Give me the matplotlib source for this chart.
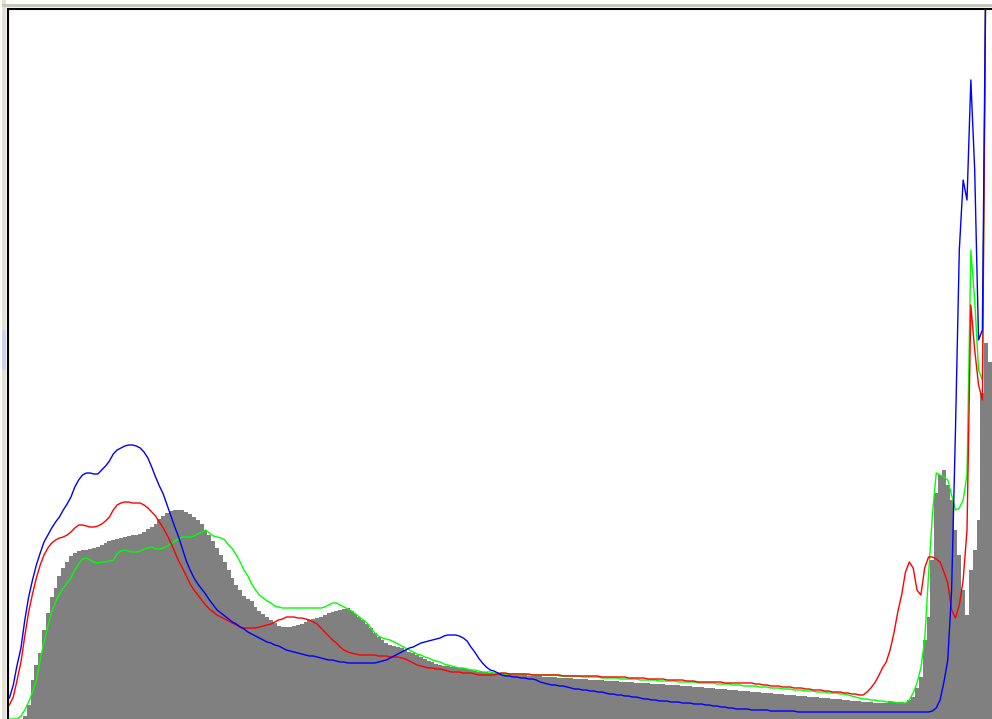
import matplotlib
matplotlib.use("Agg")
import matplotlib.pyplot as plt
import numpy as np
from matplotlib.patches import Rectangle

# 256-bin image histogram: luminance (gray bars) and R, G, B curves
gray = [0, 0, 0, 0, 3, 14, 39, 54, 66, 89, 106, 122, 131, 143, 151, 157, 163, 166, 168, 169,
        169, 170, 171, 172, 174, 176, 178, 179, 180, 181, 182, 183, 184, 184, 185, 187, 190, 192, 195, 200,
        203, 206, 208, 209, 209, 209, 207, 205, 202, 199, 195, 189, 184, 178, 171, 164, 157, 149, 141, 134,
        129, 123, 120, 118, 112, 108, 105, 102, 99, 96, 93, 92, 92, 92, 93, 94, 95, 97, 99, 100,
        101, 102, 104, 106, 107, 108, 109, 110, 111, 108, 105, 102, 99, 95, 91, 86, 82, 79, 76, 74,
        73, 72, 71, 69, 67, 66, 64, 62, 60, 58, 57, 55, 54, 53, 53, 52, 52, 51, 51, 50,
        49, 48, 47, 47, 47, 46, 46, 46, 45, 45, 45, 44, 44, 44, 44, 43, 43, 43, 43, 42,
        42, 42, 42, 41, 41, 41, 41, 40, 40, 40, 40, 39, 39, 39, 39, 38, 38, 38, 38, 37,
        37, 37, 37, 36, 36, 36, 36, 35, 35, 35, 35, 34, 34, 34, 34, 33, 33, 33, 32, 32,
        32, 31, 31, 31, 30, 30, 30, 29, 29, 29, 28, 28, 28, 27, 27, 27, 26, 26, 26, 25,
        25, 25, 24, 24, 24, 23, 23, 23, 22, 22, 22, 21, 21, 21, 20, 20, 20, 19, 19, 18,
        18, 18, 17, 17, 17, 16, 16, 16, 16, 18, 17, 17, 17, 16, 19, 22, 31, 42, 79, 102,
        159, 226, 244, 249, 234, 219, 189, 164, 129, 104, 149, 169, 199, 326, 376, 357]

red = [14, 22, 39, 57, 83, 107, 125, 141, 154, 164, 171, 176, 179, 181, 182, 184, 187, 191, 194, 194,
       193, 192, 192, 193, 195, 198, 202, 209, 214, 216, 217, 217, 216, 216, 216, 214, 211, 207, 203, 197,
       191, 184, 176, 167, 158, 151, 143, 135, 129, 124, 119, 114, 110, 107, 104, 102, 100, 98, 96, 94,
       92, 91, 91, 91, 91, 92, 93, 94, 95, 97, 99, 100, 102, 102, 102, 101, 101, 100, 99, 97,
       95, 91, 87, 83, 79, 76, 72, 69, 67, 66, 65, 64, 64, 64, 64, 64, 63, 63, 63, 62,
       62, 62, 61, 60, 58, 56, 54, 53, 52, 51, 51, 50, 50, 49, 48, 47, 47, 47, 46, 46,
       46, 45, 44, 44, 44, 44, 44, 45, 46, 46, 45, 45, 45, 45, 45, 45, 44, 44, 44, 44,
       44, 44, 44, 44, 43, 43, 43, 43, 43, 43, 43, 43, 43, 43, 42, 42, 42, 42, 42, 42,
       42, 41, 41, 41, 41, 41, 40, 40, 40, 40, 40, 39, 39, 39, 39, 39, 38, 38, 38, 37,
       37, 37, 37, 37, 37, 37, 36, 36, 36, 36, 36, 36, 36, 36, 35, 35, 34, 34, 33, 33,
       33, 32, 32, 32, 31, 31, 31, 30, 30, 29, 29, 29, 28, 28, 27, 27, 27, 26, 26, 25,
       25, 24, 24, 27, 31, 36, 43, 51, 57, 69, 86, 107, 124, 147, 157, 151, 129, 124, 151, 162,
       162, 160, 157, 147, 136, 109, 101, 114, 139, 189, 414, 369, 334, 319, 800, 800]

green = [0, 0, 0, 3, 9, 17, 27, 39, 59, 77, 93, 107, 117, 125, 131, 136, 141, 149, 155, 160,
         161, 159, 157, 156, 157, 157, 158, 159, 165, 168, 169, 168, 167, 167, 168, 170, 171, 172, 170, 170,
         171, 173, 175, 178, 180, 182, 182, 182, 183, 185, 187, 189, 186, 183, 182, 181, 179, 174, 170, 164,
         157, 149, 143, 135, 129, 124, 121, 118, 116, 113, 112, 111, 111, 111, 111, 111, 111, 111, 111, 111,
         111, 111, 112, 114, 116, 116, 114, 112, 110, 108, 105, 102, 99, 96, 91, 86, 83, 81, 80, 79,
         77, 75, 73, 71, 69, 67, 65, 64, 62, 61, 59, 58, 57, 55, 54, 53, 52, 51, 51, 50,
         49, 49, 48, 47, 47, 47, 46, 46, 46, 45, 45, 45, 45, 45, 45, 44, 44, 44, 44, 44,
         44, 44, 44, 43, 43, 43, 43, 43, 43, 42, 42, 42, 42, 42, 41, 41, 41, 41, 41, 40,
         40, 40, 40, 40, 39, 39, 39, 39, 39, 38, 38, 38, 38, 38, 37, 37, 37, 37, 37, 36,
         36, 36, 36, 36, 35, 35, 35, 35, 34, 34, 34, 33, 33, 33, 33, 32, 32, 32, 31, 31,
         31, 30, 30, 30, 29, 29, 29, 28, 28, 28, 27, 27, 27, 26, 26, 26, 25, 25, 24, 23,
         22, 21, 20, 20, 19, 19, 18, 18, 17, 17, 17, 16, 16, 16, 19, 26, 36, 51, 79, 144,
         204, 246, 244, 242, 239, 224, 209, 211, 219, 244, 469, 419, 349, 339, 800, 800]

blue = [21, 34, 54, 71, 99, 122, 139, 154, 166, 177, 184, 191, 197, 202, 209, 215, 222, 232, 239, 244,
        246, 246, 245, 245, 249, 253, 258, 265, 269, 271, 273, 274, 274, 273, 271, 267, 261, 252, 242, 233,
        225, 214, 203, 192, 182, 170, 158, 149, 141, 135, 130, 125, 119, 114, 109, 106, 103, 100, 97, 95,
        92, 90, 87, 85, 83, 81, 79, 77, 76, 74, 73, 71, 69, 68, 67, 66, 65, 64, 63, 63,
        62, 61, 60, 59, 59, 58, 57, 57, 56, 56, 56, 56, 56, 56, 56, 56, 57, 58, 59, 61,
        63, 65, 67, 69, 71, 72, 74, 76, 77, 78, 79, 80, 81, 83, 84, 84, 84, 83, 81, 78,
        72, 67, 61, 56, 52, 49, 48, 46, 44, 43, 43, 42, 42, 41, 41, 40, 40, 39, 37, 36,
        35, 34, 34, 33, 33, 32, 31, 30, 30, 29, 29, 28, 28, 27, 27, 26, 25, 25, 24, 24,
        23, 23, 22, 22, 21, 20, 20, 19, 19, 18, 18, 18, 17, 17, 17, 16, 16, 16, 15, 15,
        15, 14, 14, 13, 13, 12, 12, 11, 11, 10, 10, 10, 10, 9, 9, 9, 9, 9, 8, 8,
        8, 8, 8, 8, 8, 7, 7, 7, 7, 7, 7, 7, 7, 7, 7, 7, 7, 7, 7, 7,
        7, 7, 7, 7, 7, 7, 7, 7, 7, 7, 7, 7, 7, 7, 7, 7, 7, 7, 7, 7,
        8, 11, 19, 37, 59, 129, 289, 469, 539, 519, 639, 549, 379, 389, 800, 800]

nbins = len(gray)
edges = np.arange(nbins + 1)
centers = np.arange(nbins) + 0.5

W, H = 992, 719
fig = plt.figure(figsize=(W / 100, H / 100), dpi=100)
fig.patch.set_facecolor("white")

# window chrome (light beige border strips)
fig.patches.append(Rectangle((2 / W, 0), 4 / W, 1, transform=fig.transFigure,
                             facecolor="#E4E1D4", edgecolor="none", zorder=0))
fig.patches.append(Rectangle((2 / W, 1 - 7 / H), 1, 3 / H, transform=fig.transFigure,
                             facecolor="#C9C7BC", edgecolor="none", zorder=0))
fig.patches.append(Rectangle((2 / W, 1 - 370 / H), 4 / W, 40 / H, transform=fig.transFigure,
                             facecolor="#C9D2F2", edgecolor="none", zorder=1))

ax = fig.add_axes([7.5 / W, 0, 1 - 7.5 / W, (H - 8.5) / H])
ax.set_facecolor("white")

ax.stairs(gray, edges, fill=True, color="#808080", linewidth=0, zorder=1)
ax.plot(centers, red, color="#FF0000", lw=1.0, zorder=3)
ax.plot(centers, green, color="#00FF00", lw=1.0, zorder=2)
ax.plot(centers, blue, color="#0000FF", lw=1.0, zorder=4)

ax.set_xlim(0, nbins)
ax.set_ylim(0, 710.5)
ax.set_xticks([])
ax.set_yticks([])
for s in ["right", "bottom"]:
    ax.spines[s].set_visible(False)
for s in ["left", "top"]:
    ax.spines[s].set_linewidth(1.5)
    ax.spines[s].set_color("black")

fig.savefig("out.png", dpi=100, facecolor="white")
